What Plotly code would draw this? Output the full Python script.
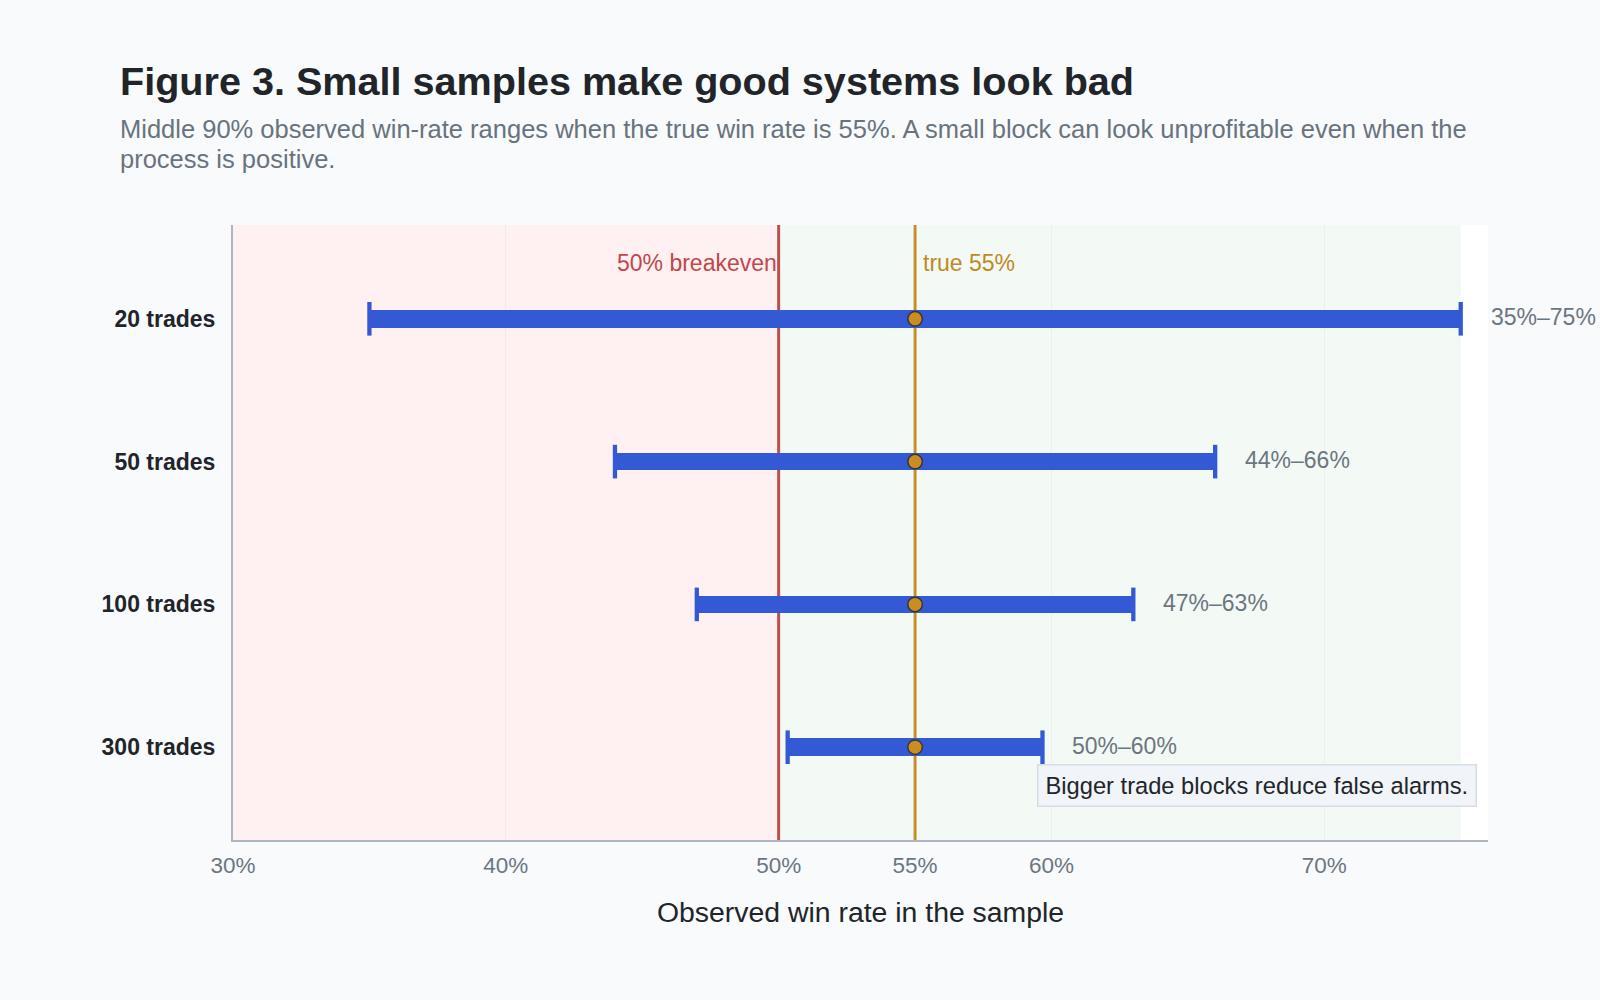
import plotly.graph_objects as go

# ---- data ----
categories = ["20 trades", "50 trades", "100 trades", "300 trades"]
low_pct = [35.0, 44.0, 47.0, 50.33]
high_pct = [75.0, 66.0, 63.0, 59.67]
true_rate = 55.0
breakeven = 50.0
axis_min, axis_max = 30.0, 76.0
band_max = 75.0
tick_vals = [30, 40, 50, 55, 60, 70]
tick_text = [f"{v}%" for v in tick_vals]

title_text = "Figure 3. Small samples make good systems look bad"
subtitle_lines = [
    "Middle 90% observed win-rate ranges when the true win rate is 55%. A small block can look unprofitable even when the",
    "process is positive.",
]
xaxis_title = "Observed win rate in the sample"
note_text = "Bigger trade blocks reduce false alarms."

# ---- styles ----
FONT = "Liberation Sans, Arial, sans-serif"
BLUE = "#3459d5"
RED = "#c0504f"
GOLD = "#c8912a"
DOT = "#c98d22"
GRAY = "#6c7680"
DARK = "#212529"
PAPER = "#f8fafc"

fig = go.Figure()

# background bands
fig.add_shape(type="rect", xref="x", yref="y domain", x0=axis_min, x1=breakeven, y0=0, y1=1,
              fillcolor="#fff1f1", line=dict(width=0), layer="below")
fig.add_shape(type="rect", xref="x", yref="y domain", x0=breakeven, x1=band_max, y0=0, y1=1,
              fillcolor="#f3f9f5", line=dict(width=0), layer="below")

# reference lines
fig.add_shape(type="line", xref="x", yref="y domain", x0=breakeven, x1=breakeven, y0=0, y1=1,
              line=dict(color=RED, width=3), layer="below")
fig.add_shape(type="line", xref="x", yref="y domain", x0=true_rate, x1=true_rate, y0=0, y1=1,
              line=dict(color=GOLD, width=3), layer="below")

# range bars
fig.add_trace(go.Bar(
    y=categories,
    x=[h - l for l, h in zip(low_pct, high_pct)],
    base=low_pct,
    orientation="h",
    width=0.122,
    marker=dict(color=BLUE, line=dict(width=0)),
    hoverinfo="skip",
    showlegend=False,
))

# end caps
fig.add_trace(go.Scatter(
    x=low_pct + high_pct,
    y=categories + categories,
    mode="markers",
    marker=dict(symbol="line-ns", size=24, line=dict(color=BLUE, width=4.3)),
    hoverinfo="skip",
    showlegend=False,
))

# true-rate dots
fig.add_trace(go.Scatter(
    x=[true_rate] * len(categories),
    y=categories,
    mode="markers",
    marker=dict(symbol="circle", size=14.5, color=DOT, line=dict(color="#3a3530", width=1.5)),
    hoverinfo="skip",
    showlegend=False,
))

annotations = []
annotations.append(dict(xref="x", yref="y domain", x=breakeven, y=0.939, text="50% breakeven",
                        xanchor="right", yanchor="middle", xshift=0, showarrow=False,
                        font=dict(family=FONT, size=23, color="#c0474a")))
annotations.append(dict(xref="x", yref="y domain", x=true_rate, y=0.939, text="true 55%",
                        xanchor="left", yanchor="middle", xshift=6, showarrow=False,
                        font=dict(family=FONT, size=23, color="#c08a22")))

for c, l, h in zip(categories, low_pct, high_pct):
    annotations.append(dict(xref="x", yref="y", x=h, y=c, text=f"{round(l)}%–{round(h)}%",
                            xanchor="left", yanchor="middle", xshift=28, yshift=1.5, showarrow=False,
                            font=dict(family=FONT, size=23, color=GRAY)))

annotations.append(dict(xref="paper", yref="paper", x=1, y=0.0884, text=note_text,
                        xanchor="right", yanchor="middle", xshift=-11, showarrow=False,
                        bgcolor="#f1f4f8", bordercolor="#d7dde5", borderwidth=1.5, borderpad=7,
                        font=dict(family=FONT, size=23.7, color=DARK)))

for line_text, y_pos in zip(subtitle_lines, [1.1559, 1.1078]):
    annotations.append(dict(xref="paper", yref="paper", x=-0.0914, y=y_pos, text=line_text,
                            xanchor="left", yanchor="middle", align="left", showarrow=False,
                            font=dict(family=FONT, size=25.5, color="#69737d")))

annotations.append(dict(xref="paper", yref="paper", x=0.5, y=-0.1168, text=xaxis_title,
                        xanchor="center", yanchor="middle", showarrow=False,
                        font=dict(family=FONT, size=28.4, color=DARK)))

fig.update_layout(
    width=1600, height=1000,
    paper_bgcolor=PAPER, plot_bgcolor="#ffffff",
    margin=dict(l=233, r=112, t=225, b=160),
    title=dict(text=f"<b>{title_text}</b>", xref="container", yref="container",
               x=0.075, y=0.919, xanchor="left", yanchor="middle",
               font=dict(family=FONT, size=39.6, color=DARK)),
    annotations=annotations,
    bargap=0,
    showlegend=False,
    xaxis=dict(range=[axis_min, axis_max], tickvals=tick_vals, ticktext=tick_text,
               showgrid=True, gridcolor="rgba(0,0,0,0.035)", gridwidth=1,
               zeroline=False, showline=True, linecolor="#aeb5c0", linewidth=2,
               ticks="", ticklabelstandoff=4,
               tickfont=dict(family=FONT, size=22.5, color=GRAY)),
    yaxis=dict(type="category", categoryorder="array", categoryarray=categories,
               range=[3.65, -0.657], showgrid=False, zeroline=False,
               showline=True, linecolor="#aeb5c0", linewidth=2,
               ticks="", ticklabelstandoff=11,
               tickfont=dict(family=FONT, size=23, color=DARK, weight="bold")),
)

fig.write_html("out.html")
